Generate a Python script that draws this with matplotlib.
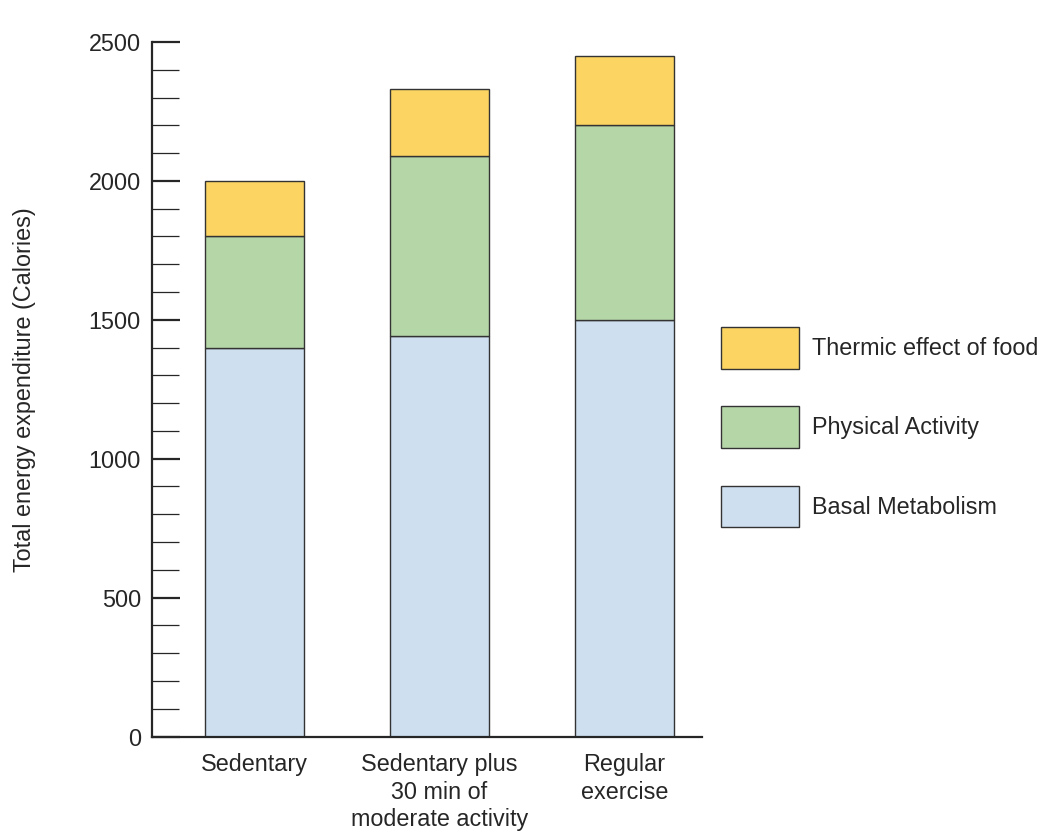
import matplotlib
matplotlib.use("Agg")
import matplotlib.pyplot as plt
from matplotlib.ticker import MultipleLocator

plt.rcParams['font.family'] = ['Liberation Sans', 'DejaVu Sans']

categories = ["Sedentary", "Sedentary plus\n30 min of\nmoderate activity", "Regular\nexercise"]
basal = [1400, 1440, 1500]
physical = [400, 650, 700]
thermic = [200, 240, 250]
series_names = ["Basal Metabolism", "Physical Activity", "Thermic effect of food"]
colors = ["#CEDFEF", "#B5D6A7", "#FBD462"]

FS = 16.8
TXT = '#262626'

fig = plt.figure(figsize=(10.37, 8.31), dpi=100)
ax = fig.add_axes([152/1037, 1-736.5/831, 550/1037, (736.5-42)/831])

x = list(range(len(categories)))
w = 0.53
b1 = ax.bar(x, basal, w, color=colors[0], edgecolor="#333333", linewidth=1.0, label=series_names[0])
bottom2 = basal
b2 = ax.bar(x, physical, w, bottom=bottom2, color=colors[1], edgecolor="#333333", linewidth=1.0, label=series_names[1])
bottom3 = [a + b for a, b in zip(basal, physical)]
b3 = ax.bar(x, thermic, w, bottom=bottom3, color=colors[2], edgecolor="#333333", linewidth=1.0, label=series_names[2])

ax.set_xlim(-0.554, 2.419)
ax.set_ylim(0, 2500)
ax.yaxis.set_major_locator(MultipleLocator(500))
ax.yaxis.set_minor_locator(MultipleLocator(100))
ax.tick_params(axis='y', which='major', direction='in', length=20, width=1.6, pad=8,
               labelsize=FS, colors=TXT)
ax.tick_params(axis='y', which='minor', direction='in', length=19.5, width=0.9, colors=TXT)
ax.tick_params(axis='x', length=0, pad=12, labelsize=FS, colors=TXT)
ax.set_xticks(x)
ax.set_xticklabels(categories, multialignment='center', linespacing=1.25)

for s in ['top', 'right']:
    ax.spines[s].set_visible(False)
for s in ['left', 'bottom']:
    ax.spines[s].set_linewidth(1.6)
    ax.spines[s].set_color(TXT)

ax.set_ylabel("Total energy expenditure (Calories)", fontsize=FS, color=TXT, labelpad=38)

leg = fig.legend(handles=[b3, b2, b1], labels=series_names[::-1],
                 loc='upper left', bbox_to_anchor=(721/1037, 1-327/831),
                 bbox_transform=fig.transFigure, frameon=False,
                 fontsize=FS, handlelength=3.33, handleheight=2.36,
                 labelspacing=1.62, handletextpad=0.57, borderpad=0, borderaxespad=0)
for t in leg.get_texts():
    t.set_color(TXT)

fig.savefig("out.png", dpi=100)
